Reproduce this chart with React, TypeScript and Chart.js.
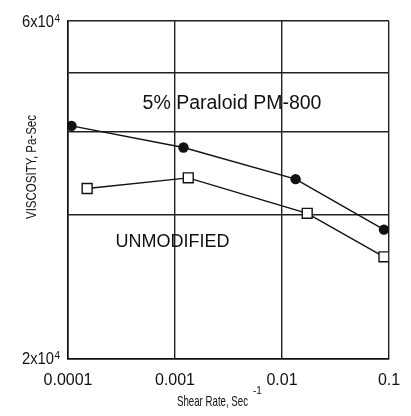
import React, { useEffect, useRef } from "react";
import { Chart, registerables } from "chart.js";

Chart.register(...registerables);

// ---- data ----
const shearRateParaloid = [1.08e-4, 1.2e-3, 0.0134, 0.0897];
const viscosityParaloid = [42640, 39750, 35860, 30420];
const shearRateUnmod = [1.51e-4, 1.33e-3, 0.0172, 0.0897];
const viscosityUnmod = [34780, 36010, 32080, 27850];

const xTicks = [1e-4, 1e-3, 1e-2, 1e-1];
const xTickLabels = ["0.0001", "0.001", "0.01", "0.1"];
const yGridValues = [2e4, 31900, 41820, 50770, 6e4];
const yTickValues = [2e4, 6e4];
const yTickMantissa = ["2", "6"];
const yTickExponent = ["4", "4"];

const annotationTexts = ["5% Paraloid PM-800", "UNMODIFIED"];
const annotationX = [3.41e-3, 9.48e-4];
const annotationY = [45900, 29220];

const xTitle = "Shear Rate, Sec";
const xTitleSup = "-1";
const yTitle = "VISCOSITY, Pa-Sec";

const FONT = "'Liberation Sans', Arial, Helvetica, sans-serif";

const textPlugin = {
  id: "customTexts",
  afterDraw(chart: any) {
    const { ctx, chartArea, scales } = chart;
    const xs = scales.x;
    const ys = scales.y;
    ctx.save();
    ctx.fillStyle = "#111";

    // y tick labels (mantissa x 10^exp)
    yTickValues.forEach((v, i) => {
      const py = ys.getPixelForValue(v);
      const supX = chartArea.left - 14;
      ctx.textBaseline = "middle";
      ctx.font = `16px ${FONT}`;
      ctx.textAlign = "right";
      ctx.fillText(yTickMantissa[i] + "x10", supX, py + 1.5, 32);
      ctx.font = `10px ${FONT}`;
      ctx.textAlign = "left";
      ctx.fillText(yTickExponent[i], supX + 0.5, py - 2);
    });

    // x tick labels
    ctx.font = `16px ${FONT}`;
    ctx.textAlign = "center";
    ctx.textBaseline = "middle";
    xTicks.forEach((v, i) => {
      const px = xs.getPixelForValue(v);
      ctx.fillText(xTickLabels[i], px, chartArea.bottom + 22);
    });

    // x title with superscript
    ctx.font = `15px ${FONT}`;
    ctx.textAlign = "left";
    const titleW = 71;
    const tx = 177;
    ctx.fillText(xTitle, tx, chartArea.bottom + 43, titleW);
    ctx.font = `10px ${FONT}`;
    ctx.fillText(xTitleSup, tx + titleW + 5, chartArea.bottom + 33);

    // y title rotated
    ctx.save();
    ctx.translate(32, 167);
    ctx.rotate(-Math.PI / 2);
    ctx.font = `14px ${FONT}`;
    ctx.textAlign = "center";
    ctx.textBaseline = "middle";
    ctx.fillText(yTitle, 0, 0, 104);
    ctx.restore();

    // annotations
    ctx.textAlign = "center";
    ctx.textBaseline = "middle";
    annotationTexts.forEach((t, i) => {
      ctx.font = `${i === 0 ? 19.5 : 18}px ${FONT}`;
      ctx.fillText(t, xs.getPixelForValue(annotationX[i]), ys.getPixelForValue(annotationY[i]));
    });

    ctx.restore();
  },
};

export default function App() {
  const canvasRef = useRef<HTMLCanvasElement | null>(null);

  useEffect(() => {
    const canvas = canvasRef.current;
    if (!canvas) return;
    const chart = new Chart(canvas, {
      type: "line",
      data: {
        datasets: [
          {
            label: "5% Paraloid PM-800",
            data: shearRateParaloid.map((x, i) => ({ x, y: viscosityParaloid[i] })),
            borderColor: "#111",
            borderWidth: 1.4,
            backgroundColor: "#111",
            pointStyle: "circle",
            pointRadius: 5.2,
            pointBorderWidth: 0,
            pointBackgroundColor: "#111",
            tension: 0,
          },
          {
            label: "UNMODIFIED",
            data: shearRateUnmod.map((x, i) => ({ x, y: viscosityUnmod[i] })),
            borderColor: "#111",
            borderWidth: 1.4,
            backgroundColor: "#fff",
            pointStyle: "rect",
            pointRadius: 7,
            pointBorderWidth: 1.4,
            pointBorderColor: "#111",
            pointBackgroundColor: "#fff",
            tension: 0,
          },
        ],
      },
      options: {
        responsive: false,
        animation: false,
        devicePixelRatio: 1,
        layout: { padding: { left: 68, right: 22, top: 21, bottom: 57.5 } },
        plugins: {
          legend: { display: false },
          tooltip: { enabled: false },
          title: { display: false },
        },
        scales: {
          x: {
            type: "logarithmic",
            min: 1e-4,
            max: 0.1,
            afterBuildTicks: (scale: any) => {
              scale.ticks = xTicks.map((v) => ({ value: v }));
            },
            ticks: { display: false },
            grid: { color: "#222", lineWidth: 1.4, drawTicks: false },
            border: { display: true, color: "#111", width: 1.6 },
          },
          y: {
            type: "logarithmic",
            min: 2e4,
            max: 6e4,
            afterBuildTicks: (scale: any) => {
              scale.ticks = yGridValues.map((v) => ({ value: v }));
            },
            ticks: { display: false },
            grid: { color: "#222", lineWidth: 1.4, drawTicks: false },
            border: { display: true, color: "#111", width: 1.6 },
          },
        },
      },
      plugins: [textPlugin],
    });
    return () => chart.destroy();
  }, []);

  return (
    <div style={{ position: "absolute", left: 0, top: 0, width: 411, height: 416, background: "#fff" }}>
      <canvas ref={canvasRef} width={411} height={416} style={{ display: "block" }} />
    </div>
  );
}
